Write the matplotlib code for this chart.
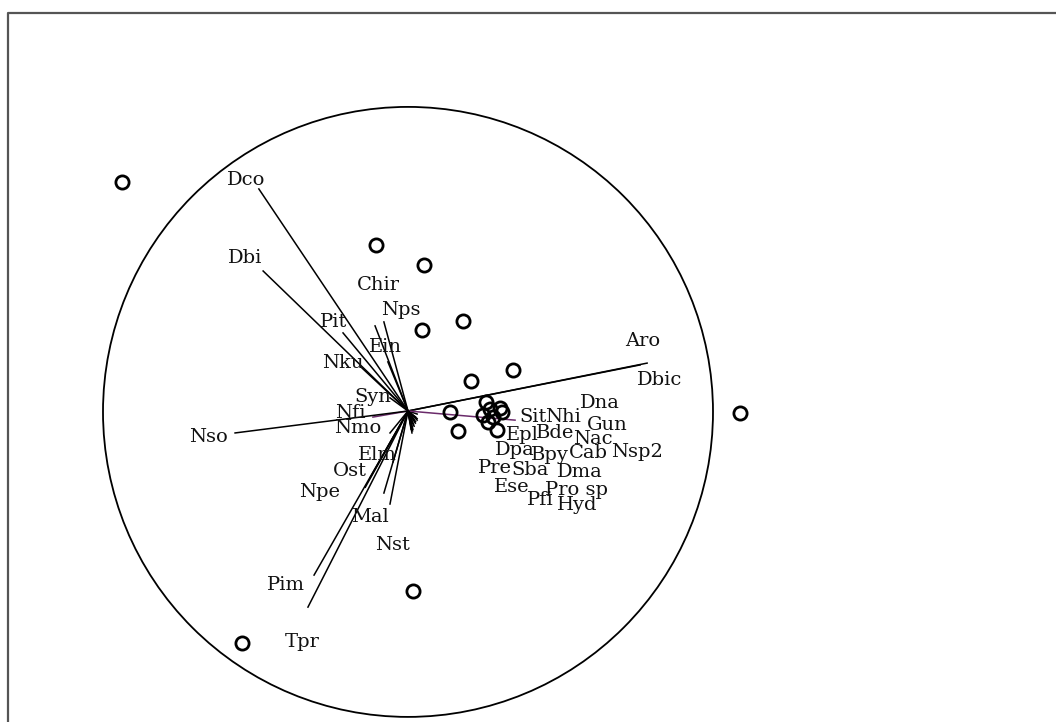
import matplotlib.pyplot as plt
import matplotlib.patches as mpatches

# species arrows (end points) and label positions, in units of the circle radius
species = ['Dco', 'Dbi', 'Pit', 'Chir', 'Nps', 'Ein', 'Nku', 'Syn', 'Nfi', 'Nso',
           'Nmo', 'Elm', 'Ost', 'Npe', 'Mal', 'Nst', 'Pim', 'Tpr', 'Aro', 'Dbic',
           'Dna', 'Sit', 'Nhi', 'Gun', 'Epl', 'Bde', 'Nac', 'Nsp2', 'Dpa', 'Bpy',
           'Cab', 'Pre', 'Sba', 'Dma', 'Ese', 'Pro sp', 'Pfi', 'Hyd']
arrow_x = [-0.489, -0.475, -0.213, -0.108, -0.079, -0.066, -0.151, -0.059, -0.115, -0.567,
           -0.059, -0.049, -0.125, -0.140, -0.079, -0.059, -0.308, -0.328, 0.784, 0.761,
           0.030, 0.351, 0.025, 0.030, 0.020, 0.022, 0.025, 0.030, 0.015, 0.018,
           0.024, 0.010, 0.014, 0.020, 0.010, 0.016, 0.013, 0.015]
arrow_y = [0.728, 0.459, 0.256, 0.279, 0.292, 0.161, 0.141, 0.043, -0.020, -0.072,
           -0.072, -0.167, -0.220, -0.250, -0.269, -0.305, -0.538, -0.643, 0.157, 0.151,
           -0.010, -0.030, -0.020, -0.025, -0.030, -0.035, -0.035, -0.030, -0.040, -0.045,
           -0.040, -0.050, -0.055, -0.050, -0.060, -0.060, -0.072, -0.065]
label_x = [-0.531, -0.534, -0.243, -0.098, -0.023, -0.075, -0.213, -0.115, -0.190, -0.656,
           -0.164, -0.102, -0.190, -0.289, -0.125, -0.052, -0.400, -0.348, 0.770, 0.826,
           0.630, 0.410, 0.508, 0.652, 0.374, 0.482, 0.607, 0.751, 0.351, 0.466,
           0.590, 0.285, 0.400, 0.564, 0.341, 0.554, 0.433, 0.554]
label_y = [0.757, 0.502, 0.292, 0.413, 0.331, 0.210, 0.157, 0.046, -0.007, -0.085,
           -0.056, -0.144, -0.197, -0.266, -0.348, -0.439, -0.570, -0.757, 0.230, 0.102,
           0.026, -0.020, -0.020, -0.046, -0.079, -0.072, -0.092, -0.134, -0.128, -0.144,
           -0.138, -0.187, -0.193, -0.200, -0.249, -0.259, -0.292, -0.308]
purple = ['Nfi', 'Sit']

# site scores
site_x = [-0.938, -0.105, 0.052, 0.180, 0.046, 0.344, 0.207, 1.089, 0.138, 0.164,
          0.256, 0.302, 0.246, 0.279, 0.308, 0.262, 0.292, 0.269, 0.016, -0.544]
site_y = [0.751, 0.544, 0.479, 0.295, 0.266, 0.134, 0.098, -0.007, -0.003, -0.066,
          0.030, 0.010, -0.013, -0.020, -0.003, -0.036, -0.062, 0.007, -0.590, -0.761]

plt.rcParams['font.family'] = ['DejaVu Serif']

fig = plt.figure(figsize=(10.56, 7.22), dpi=100)
ax = fig.add_axes([0, 0, 1, 1])
ax.set_xlim(-1.3377, 2.1246)
ax.set_ylim(-1.0197, 1.3475)
ax.axis('off')

# frame (only left and top edges visible in the crop)
ax.plot([-1.3115, -1.3115, 2.2], [-1.1, 1.305, 1.305], color='#555555', lw=1.6, clip_on=False)

ax.add_patch(mpatches.Circle((0, -0.003), 1.0, fill=False, color='black', lw=1.3))

for name, ex, ey, lx, ly in zip(species, arrow_x, arrow_y, label_x, label_y):
    col = '#6a2a6a' if name in purple else 'black'
    ax.plot([0, ex], [0, ey], color=col, lw=1.1)
    ax.text(lx, ly, name, fontsize=14, ha='center', va='center', color='#111111')

ax.plot(site_x, site_y, 'o', mfc='none', mec='black', ms=9.5, mew=2.0)

plt.savefig('out.png', dpi=100)
